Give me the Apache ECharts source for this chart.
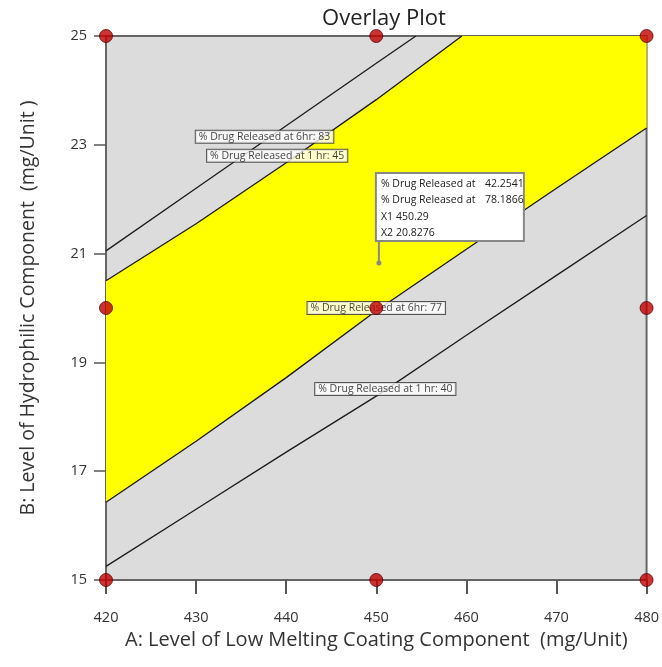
<!DOCTYPE html>
<html><head><meta charset="utf-8">
<script src="https://cdn.jsdelivr.net/npm/echarts@6/dist/echarts.min.js"></script>
<style>html,body{margin:0;padding:0;background:#fff}#c{width:662px;height:667px}</style>
</head><body><div id="c"></div>
<script>
// Contour lines: [A (mg/Unit), B (mg/Unit)]
const line6hr83 = [[420,21.05],[430,22.2],[440,23.35],[450,24.5],[454.4,25]];
const line1hr45 = [[420,20.5],[430,21.55],[440,22.67],[450,23.83],[459.5,25]];
const line6hr77 = [[420,16.43],[430,17.55],[440,18.72],[450,19.95],[460,21.08],[470,22.2],[480,23.31]];
const line1hr40 = [[420,15.25],[430,16.3],[440,17.35],[450,18.38],[460,19.5],[470,20.6],[480,21.7]];
// Design points
const designPoints = [[420,25],[450,25],[480,25],[420,20],[450,20],[480,20],[420,15],[450,15],[480,15]];
// Contour labels
const contourLabels = [
  {name:'% Drug Released at 6hr: 83', value:[437.6,23.15]},
  {name:'% Drug Released at 1 hr: 45', value:[439.0,22.8]},
  {name:'% Drug Released at 6hr: 77', value:[450,20.0]},
  {name:'% Drug Released at 1 hr: 40', value:[451.0,18.51]}
];
// Flag point
const flagPoint = [450.29, 20.8276];
const flagRows = [['% Drug Released at','42.2541'],['% Drug Released at','78.1866'],['X1','450.29'],['X2','20.8276']];
const xTicks = [420,430,440,450,460,470,480];
const yTicks = [15,17,19,21,23,25];

// yellow region polygon: upper 45 line, top edge, right edge, lower 77 line back
const yellowPoly = line1hr45.concat([[480,25]]).concat(line6hr77.slice().reverse());

const FONT = '"Open Sans","Noto Sans",sans-serif';
const chart = echarts.init(document.getElementById('c'));
chart.setOption({
  animation:false,
  textStyle:{fontFamily:FONT},
  title:{text:'Overlay Plot', left:379, top:3, textAlign:'center',
    textStyle:{fontFamily:FONT, fontSize:22, fontWeight:'normal', color:'#222'}},
  grid:{left:106, right:11, top:36, bottom:87, show:true, backgroundColor:'#dcdcdc', borderColor:'#666', borderWidth:2},
  xAxis:{type:'value', min:420, max:480, interval:10,
    name:'A: Level of Low Melting Coating Component  (mg/Unit)', nameLocation:'middle', nameGap:49,
    nameTextStyle:{fontFamily:FONT, fontSize:20, color:'#333'},
    axisLine:{show:true, lineStyle:{color:'#666', width:2}},
    axisTick:{show:true, length:14, lineStyle:{color:'#555', width:2}},
    axisLabel:{fontFamily:FONT, fontSize:14.5, color:'#333', margin:30},
    splitLine:{show:false}},
  yAxis:{type:'value', min:15, max:25, interval:2,
    name:'B: Level of Hydrophilic Component  (mg/Unit )', nameLocation:'middle', nameGap:68,
    nameTextStyle:{fontFamily:FONT, fontSize:19.5, color:'#333'},
    axisLine:{show:true, lineStyle:{color:'#666', width:2}},
    axisTick:{show:true, length:12, lineStyle:{color:'#555', width:1.5}},
    axisLabel:{fontFamily:FONT, fontSize:14.5, color:'#333', margin:19},
    splitLine:{show:false}},
  series:[
    {type:'custom', z:1, silent:true, data:[0],
     renderItem:function(params, api){
       const pts = yellowPoly.map(p=>api.coord(p));
       return {type:'polygon', shape:{points:pts}, style:{fill:'#ffff00', stroke:null}};
     }},
    {type:'line', data:line6hr83, showSymbol:false, lineStyle:{color:'#1a1a1a', width:1.3}, z:2},
    {type:'line', data:line1hr45, showSymbol:false, lineStyle:{color:'#1a1a1a', width:1.3}, z:2},
    {type:'line', data:line6hr77, showSymbol:false, lineStyle:{color:'#1a1a1a', width:1.3}, z:2},
    {type:'line', data:line1hr40, showSymbol:false, lineStyle:{color:'#1a1a1a', width:1.3}, z:2},
    {type:'scatter', data:contourLabels, symbolSize:0, z:3,
     label:{show:true, position:'inside', formatter:'{b}', fontFamily:FONT, fontSize:10.5, color:'#111',
       backgroundColor:'#fff', borderColor:'#333', borderWidth:1, padding:[1,3,0,3]}},
    {type:'custom', z:4, silent:true, data:[flagPoint],
     renderItem:function(params, api){
       const p = api.coord([api.value(0), api.value(1)]);
       const children = [
         {type:'line', shape:{x1:p[0], y1:p[1], x2:p[0], y2:p[1]-22}, style:{stroke:'#888', lineWidth:2}},
         {type:'circle', shape:{cx:p[0], cy:p[1], r:2.5}, style:{fill:'#888'}},
         {type:'rect', shape:{x:p[0]-3, y:p[1]-90, width:148, height:68}, style:{fill:'#fff', stroke:'#888', lineWidth:2}}
       ];
       flagRows.forEach((r,i)=>{
         const ty = p[1]-79+i*16.5;
         children.push({type:'text', x:p[0]+2, y:ty, style:{text:r[0], fontFamily:FONT, fontSize:10.5, fill:'#222', textVerticalAlign:'middle'}});
         children.push({type:'text', x:(i<2? p[0]+106 : p[0]+17), y:ty, style:{text:r[1], fontFamily:FONT, fontSize:10.5, fill:'#222', textVerticalAlign:'middle'}});
       });
       return {type:'group', children:children};
     }},
    {type:'scatter', data:designPoints, symbolSize:13, z:5, clip:false,
     itemStyle:{color:'#c00000', borderColor:'#5a0000', borderWidth:1}}
  ]
});
</script></body></html>
